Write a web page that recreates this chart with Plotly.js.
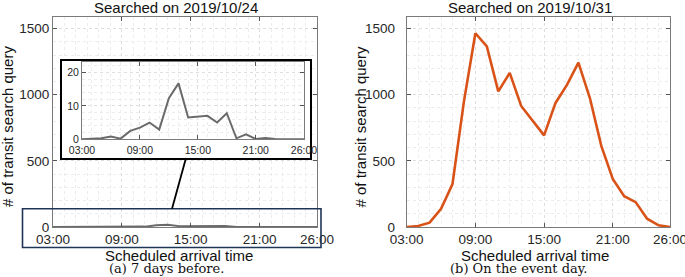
<!DOCTYPE html>
<html>
<head>
<meta charset="utf-8">
<script src="https://cdn.plot.ly/plotly-3.0.1.min.js"></script>
<style>
html,body{margin:0;padding:0;background:#fff;}
#chart{width:685px;height:277px;}
</style>
</head>
<body>
<div id="chart"></div>
<script>
// ---- data ----
var hours = [3,4,5,6,7,8,9,10,11,12,13,14,15,16,17,18,19,20,21,22,23,24,25,26];
var tickHours = [3, 9, 15, 21, 26];
var tickLabels = ['03:00','09:00','15:00','21:00','26:00'];
var before7days = [0,0.1,0.3,0.8,0.2,2.5,3.5,5.0,2.9,12.3,16.7,6.5,6.8,7.0,5.0,7.8,0.3,1.5,0.1,0.4,0.1,0.1,0,0];
var eventDay = [0,8,33,138,325,950,1465,1365,1025,1165,915,800,693,938,1075,1243,975,613,363,233,188,63,13,0];
var titleA = 'Searched on 2019/10/24';
var titleB = 'Searched on 2019/10/31';
var xTitle = 'Scheduled arrival time';
var yTitle = '# of transit search query';
var captionA = '(a) 7 days before.';
var captionB = '(b) On the event day.';

// ---- layout helpers (pixel -> paper) ----
var W = 685, H = 277;
function px(x){ return x / W; }
function py(y){ return 1 - y / H; }

var sans = 'Liberation Sans, Arial, Helvetica, sans-serif';
var tickFont = {family: sans, size: 13.5, color: '#262626'};
var smallTickFont = {family: sans, size: 10.5, color: '#262626'};

function xAxis(dom, anchor, font, standoff){
  return {
    domain: dom, anchor: anchor, range: [3, 26],
    tickvals: tickHours, ticktext: tickLabels, tickfont: font,
    ticks: 'inside', ticklen: 4, tickcolor: '#555', tickwidth: 1,
    ticklabeloverflow: 'allow', ticklabelstandoff: standoff,
    showline: true, linecolor: '#7a7a7a', linewidth: 1, mirror: 'ticks',
    showgrid: true, gridcolor: '#dedede', griddash: 'dot', gridwidth: 1,
    minor: {dtick: 1, tick0: 3, showgrid: true, gridcolor: '#ececec', griddash: 'dot', gridwidth: 1, ticks: ''},
    zeroline: false, fixedrange: true
  };
}
function yAxis(dom, anchor, range, dtick, mdtick, font, standoff){
  return {
    domain: dom, anchor: anchor, range: range,
    tick0: 0, dtick: dtick, tickfont: font,
    ticks: 'inside', ticklen: 4, tickcolor: '#555', tickwidth: 1,
    ticklabelstandoff: standoff,
    showline: true, linecolor: '#7a7a7a', linewidth: 1, mirror: 'ticks',
    showgrid: true, gridcolor: '#dedede', griddash: 'dot', gridwidth: 1,
    minor: {dtick: mdtick, tick0: 0, showgrid: true, gridcolor: '#ececec', griddash: 'dot', gridwidth: 1, ticks: ''},
    zeroline: false, fixedrange: true
  };
}
function plainAxis(dom, anchor){
  return {
    domain: dom, anchor: anchor, range: [0, 1],
    showline: true, linecolor: '#000', linewidth: 2, mirror: true,
    showgrid: false, zeroline: false, showticklabels: false, ticks: '', fixedrange: true
  };
}

var gray = '#6a6a6a';
var orange = '#D95319';

var traces = [
  {x: hours, y: before7days, xaxis: 'x', yaxis: 'y', mode: 'lines',
   line: {color: gray, width: 2}, hoverinfo: 'skip'},
  {x: hours, y: eventDay, xaxis: 'x2', yaxis: 'y2', mode: 'lines',
   line: {color: orange, width: 2.6}, hoverinfo: 'skip'},
  {x: [], y: [], xaxis: 'x3', yaxis: 'y3', mode: 'lines', hoverinfo: 'skip'},
  {x: hours, y: before7days, xaxis: 'x4', yaxis: 'y4', mode: 'lines',
   line: {color: gray, width: 2}, hoverinfo: 'skip'}
];

var mainY = [py(227), py(16.7)];
var layout = {
  width: W, height: H,
  margin: {l: 0, r: 0, t: 0, b: 0},
  paper_bgcolor: '#fff', plot_bgcolor: '#fff',
  showlegend: false,
  xaxis: xAxis([px(53), px(317)], 'y', tickFont, 0),
  yaxis: yAxis(mainY, 'x', [0, 1590], 500, 100, tickFont, 0),
  xaxis2: xAxis([px(406.7), px(670)], 'y2', tickFont, 0),
  yaxis2: yAxis(mainY, 'x2', [0, 1590], 500, 100, tickFont, 8),
  xaxis3: plainAxis([px(62), px(309.5)], 'y3'),
  yaxis3: plainAxis([py(158), py(61)], 'x3'),
  xaxis4: xAxis([px(82), px(304)], 'y4', smallTickFont, 1),
  yaxis4: yAxis([py(139.3), py(62.3)], 'x4', [0, 23], 10, 2, smallTickFont, 0),
  shapes: [
    {type: 'rect', xref: 'paper', yref: 'paper', layer: 'above',
     x0: px(22.5), x1: px(321), y0: py(247.5), y1: py(208.8),
     line: {color: '#1f3558', width: 1.6}, fillcolor: 'rgba(0,0,0,0)'},
    {type: 'line', xref: 'paper', yref: 'paper', layer: 'above',
     x0: px(186), y0: py(158), x1: px(172), y1: py(208.8),
     line: {color: '#000', width: 1.8}}
  ],
  annotations: [
    {text: titleA, x: px(176), y: py(7.5), xref: 'paper', yref: 'paper', showarrow: false,
     xanchor: 'center', yanchor: 'middle', borderpad: 0, font: {family: sans, size: 15, color: '#111'}},
    {text: titleB, x: px(529.5), y: py(7.5), xref: 'paper', yref: 'paper', showarrow: false,
     xanchor: 'center', yanchor: 'middle', borderpad: 0, font: {family: sans, size: 15, color: '#111'}},
    {text: xTitle, x: px(179), y: py(255.5), xref: 'paper', yref: 'paper', showarrow: false,
     xanchor: 'center', yanchor: 'middle', borderpad: 0, font: {family: sans, size: 15, color: '#111'}},
    {text: xTitle, x: px(535), y: py(255.5), xref: 'paper', yref: 'paper', showarrow: false,
     xanchor: 'center', yanchor: 'middle', borderpad: 0, font: {family: sans, size: 15, color: '#111'}},
    {text: yTitle, x: px(7), y: py(127), xref: 'paper', yref: 'paper', showarrow: false, textangle: -90,
     xanchor: 'center', yanchor: 'middle', borderpad: 0, font: {family: sans, size: 15, color: '#111'}},
    {text: yTitle, x: px(359.5), y: py(127), xref: 'paper', yref: 'paper', showarrow: false, textangle: -90,
     xanchor: 'center', yanchor: 'middle', borderpad: 0, font: {family: sans, size: 15, color: '#111'}},
    {text: captionA, x: px(166.5), y: py(268.5), xref: 'paper', yref: 'paper', showarrow: false,
     xanchor: 'center', yanchor: 'middle', borderpad: 0, font: {family: 'DejaVu Serif, serif', size: 13, color: '#111'}},
    {text: captionB, x: px(518), y: py(268.5), xref: 'paper', yref: 'paper', showarrow: false,
     xanchor: 'center', yanchor: 'middle', borderpad: 0, font: {family: 'DejaVu Serif, serif', size: 13, color: '#111'}}
  ]
};

Plotly.newPlot('chart', traces, layout, {staticPlot: true, displayModeBar: false});
</script>
</body>
</html>
